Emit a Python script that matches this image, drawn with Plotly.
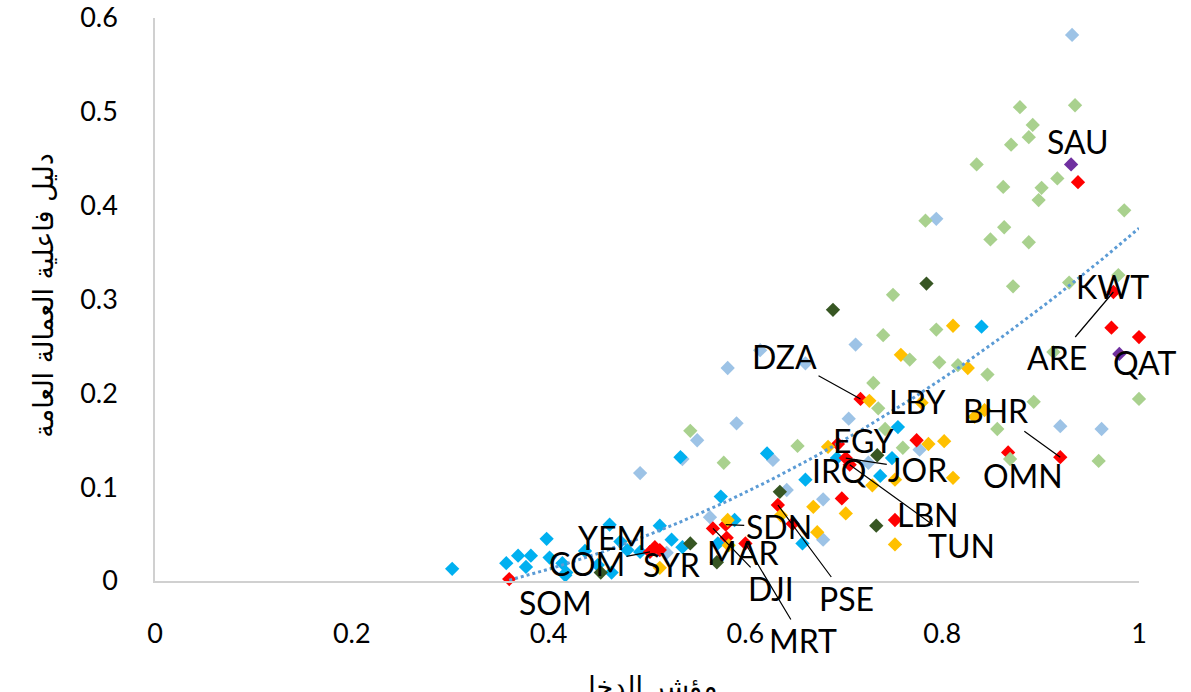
import plotly.graph_objects as go
import numpy as np

# ---------------- data ----------------
# light-blue series
lb_x = [0.932, 0.794, 0.582, 0.615, 0.661, 0.712, 0.705, 0.591, 0.551, 0.493, 0.628, 0.642,
        0.679, 0.564, 0.679, 0.920, 0.962, 0.777, 0.536, 0.520, 0.725]
lb_y = [0.582, 0.386, 0.227, 0.246, 0.232, 0.252, 0.173, 0.168, 0.150, 0.115, 0.129, 0.097,
        0.087, 0.068, 0.044, 0.165, 0.162, 0.140, 0.130, 0.030, 0.126]

# cyan series
cy_x = [0.302, 0.357, 0.369, 0.382, 0.377, 0.398, 0.401, 0.414, 0.417, 0.462, 0.464, 0.473,
        0.480, 0.493, 0.513, 0.525, 0.534, 0.575, 0.589, 0.622, 0.661, 0.693, 0.755, 0.749,
        0.737, 0.840, 0.572, 0.658, 0.536, 0.437, 0.450, 0.418]
cy_y = [0.013, 0.019, 0.027, 0.027, 0.015, 0.045, 0.025, 0.019, 0.006, 0.060, 0.009, 0.042,
        0.033, 0.031, 0.059, 0.044, 0.132, 0.090, 0.065, 0.136, 0.108, 0.131, 0.164, 0.131,
        0.112, 0.271, 0.040, 0.040, 0.036, 0.032, 0.017, 0.009]

# light-green series
lg_x = [0.879, 0.935, 0.892, 0.888, 0.870, 0.835, 0.917, 0.901, 0.898, 0.862, 0.985, 0.783,
        0.863, 0.849, 0.888, 0.872, 0.929, 0.979, 0.750, 0.740, 0.794, 0.767, 0.797, 0.816,
        0.846, 0.730, 0.735, 0.893, 0.856, 0.869, 0.959, 1.000, 0.913, 0.760, 0.742, 0.544,
        0.578, 0.653]
lg_y = [0.505, 0.507, 0.486, 0.473, 0.465, 0.444, 0.429, 0.419, 0.406, 0.420, 0.395, 0.384,
        0.377, 0.364, 0.361, 0.314, 0.318, 0.326, 0.305, 0.262, 0.268, 0.236, 0.233, 0.230,
        0.220, 0.211, 0.184, 0.191, 0.162, 0.130, 0.128, 0.194, 0.244, 0.142, 0.162, 0.160,
        0.126, 0.144]

# dark-green series
dg_x = [0.689, 0.784, 0.734, 0.635, 0.733, 0.544, 0.571, 0.453]
dg_y = [0.289, 0.317, 0.134, 0.095, 0.059, 0.040, 0.020, 0.009]

# orange series
or_x = [0.811, 0.758, 0.826, 0.726, 0.779, 0.833, 0.843, 0.786, 0.802, 0.811, 0.684, 0.636,
        0.669, 0.702, 0.673, 0.582, 0.583, 0.513, 0.752, 0.729, 0.752]
or_y = [0.272, 0.241, 0.227, 0.192, 0.190, 0.175, 0.182, 0.146, 0.149, 0.110, 0.143, 0.070,
        0.079, 0.072, 0.052, 0.065, 0.038, 0.014, 0.039, 0.102, 0.108]

# Arab countries (red series)
arab_codes = ["SOM", "YEM", "COM", "SYR", "DJI", "SDN", "MAR", "MRT", "PSE", "", "IRQ",
              "EGY", "JOR", "TUN", "LBN", "LBY", "DZA", "OMN", "BHR", "KWT", "ARE", "QAT", "SAU"]
arab_x = [0.360, 0.508, 0.503, 0.513, 0.567, 0.580, 0.581, 0.600, 0.633, 0.648, 0.698,
          0.694, 0.702, 0.706, 0.752, 0.774, 0.717, 0.867, 0.920, 0.972, 0.974, 1.000, 0.938]
arab_y = [0.002, 0.036, 0.031, 0.033, 0.056, 0.060, 0.046, 0.040, 0.081, 0.061, 0.088,
          0.146, 0.131, 0.124, 0.065, 0.150, 0.194, 0.137, 0.132, 0.270, 0.308, 0.260, 0.425]

# purple highlight points
pu_x = [0.931, 0.980]
pu_y = [0.444, 0.242]

# polynomial (order 2) trendline coefficients
trend_coef = [0.492, -0.083, -0.033]

x_ticks = [0, 0.2, 0.4, 0.6, 0.8, 1]
y_ticks = [0, 0.1, 0.2, 0.3, 0.4, 0.5, 0.6]
x_title = "مؤشر الدخل"
y_title = "دليل فاعلية العمالة العامة"

# ---------------- label placement (pixel offsets label-centre minus point) ----------------
label_style = {
    "SOM": (46, 23, False), "YEM": (-43, -10, False), "COM": (-63, 12, True),
    "SYR": (12, 14, False), "DJI": (58, 60, True), "SDN": (53, 2, True),
    "MAR": (16, 15, False), "MRT": (58, 97, True), "PSE": (69, 93, True),
    "IRQ": (-2, -28, False), "EGY": (26, -4, False), "JOR": (72, 11, True),
    "TUN": (112, 81, True), "LBN": (33, -6, False), "LBY": (0, -39, False),
    "DZA": (-76, -42, True), "OMN": (15, 23, False), "BHR": (-65, -47, True),
    "KWT": (1, -41, False), "ARE": (-56, 66, True), "QAT": (5, 25, False),
    "SAU": (0, -41, False),
}

MS = 11
fig = go.Figure()

def add(xs, ys, color, size=MS):
    fig.add_trace(go.Scatter(x=xs, y=ys, mode="markers",
                             marker=dict(symbol="diamond", size=size, color=color,
                                         line=dict(width=0)),
                             showlegend=False, cliponaxis=False))

add(lb_x, lb_y, "#9DC3E6")
add(cy_x, cy_y, "#00B0F0")
add(arab_x, arab_y, "#FF0000")
add(dg_x, dg_y, "#375623")
add(or_x, or_y, "#FFC000")
add(lg_x, lg_y, "#A9D18E")
add(pu_x, pu_y, "#7030A0")

tx = np.linspace(min(arab_x), max(arab_x), 200)
ty = np.polyval(trend_coef, tx)
fig.add_trace(go.Scatter(x=tx, y=ty, mode="lines",
                         line=dict(color="#5B9BD5", width=3, dash="dot"),
                         showlegend=False, hoverinfo="skip"))

LABEL_FONT = dict(family="Lato", size=32, color="black")
annotations = []
for code, xv, yv in zip(arab_codes, arab_x, arab_y):
    if not code:
        continue
    dx, dy, arrow = label_style[code]
    if arrow:
        annotations.append(dict(x=xv, y=yv, xref="x", yref="y", text=code,
                                showarrow=True, arrowhead=0, arrowwidth=1.2,
                                arrowcolor="black", ax=dx, ay=dy, standoff=0,
                                font=LABEL_FONT))
    else:
        annotations.append(dict(x=xv, y=yv, xref="x", yref="y", text=code,
                                showarrow=False, xshift=dx, yshift=-dy,
                                font=LABEL_FONT))

annotations.append(dict(x=0.5, y=-0.188, xref="paper", yref="paper", text=x_title,
                        showarrow=False, yanchor="middle",
                        font=dict(family="DejaVu Sans", size=27, color="black")))
annotations.append(dict(x=-0.113, y=0.508, xref="paper", yref="paper", text=y_title,
                        showarrow=False, textangle=-90, xanchor="center", yanchor="middle",
                        font=dict(family="DejaVu Sans", size=27, color="black")))

fig.update_layout(
    width=1191, height=692,
    margin=dict(l=155, r=52, t=18, b=111, autoexpand=False),
    paper_bgcolor="white", plot_bgcolor="white",
    annotations=annotations,
    xaxis=dict(range=[0, 1], tickvals=x_ticks, ticktext=[f"{v:g}" for v in x_ticks],
               showgrid=False, zeroline=False, showline=True, linecolor="#D0D0D0",
               linewidth=1.5, ticks="", ticklabelstandoff=28, automargin=False,
               ticklabeloverflow="allow",
               tickfont=dict(family="Lato", size=27, color="black")),
    yaxis=dict(range=[0, 0.6], tickvals=y_ticks, ticktext=[f"{v:g}" for v in y_ticks],
               showgrid=False, zeroline=False, showline=True, linecolor="#D0D0D0",
               linewidth=1.5, ticks="", ticklabelstandoff=30, automargin=False,
               ticklabeloverflow="allow",
               tickfont=dict(family="Lato", size=27, color="black")),
)

fig.write_html("out.html", config={"displayModeBar": False},
               post_script="document.body.style.margin='0';document.body.style.overflow='hidden';")
